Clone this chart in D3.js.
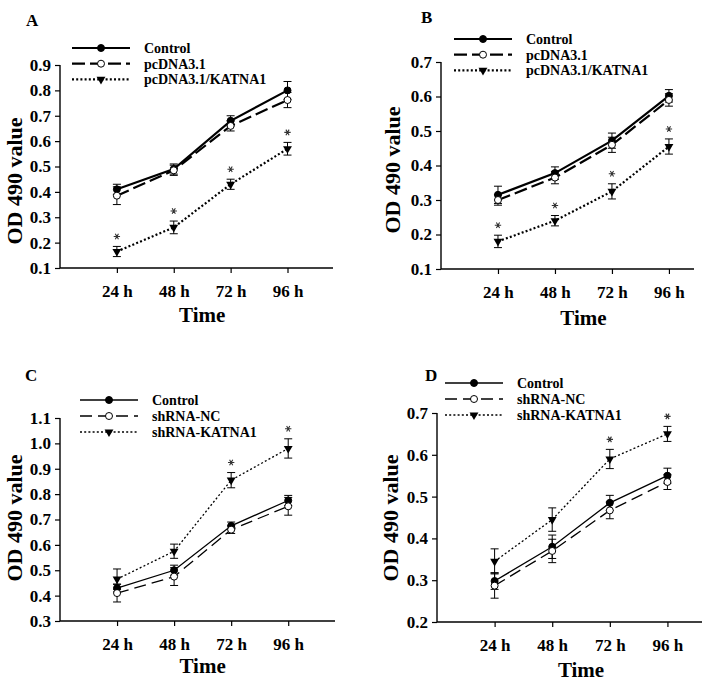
<!DOCTYPE html>
<html lang="en">
<head>
  <meta charset="UTF-8">
  <title>OD 490 value over time</title>
  <script src="https://d3js.org/d3.v7.min.js"></script>
  <style>
    body { margin: 0; background: #fff; }
    svg text { font-family: "Liberation Serif", "Times New Roman", serif; font-weight: bold; fill: #000; }
  </style>
</head>
<body>
  <svg id="chart" width="708" height="682"></svg>

  <script>
    // ---- data ----
    const timeLabels = ["24 h", "48 h", "72 h", "96 h"];
    const namesAB = ["Control", "pcDNA3.1", "pcDNA3.1/KATNA1"];
    const namesCD = ["Control", "shRNA-NC", "shRNA-KATNA1"];

    const meanA = [[0.41, 0.49, 0.68, 0.80], [0.385, 0.485, 0.66, 0.762], [0.165, 0.26, 0.43, 0.57]];
    const errA  = [[0.02, 0.02, 0.02, 0.035], [0.035, 0.02, 0.02, 0.03], [0.02, 0.025, 0.02, 0.025]];
    const starsA = [0, 1, 2, 3];
    const ticksA = [0.1, 0.2, 0.3, 0.4, 0.5, 0.6, 0.7, 0.8, 0.9];

    const meanB = [[0.315, 0.378, 0.472, 0.602], [0.30, 0.365, 0.46, 0.59], [0.18, 0.24, 0.325, 0.455]];
    const errB  = [[0.025, 0.018, 0.022, 0.018], [0.015, 0.018, 0.022, 0.018], [0.018, 0.015, 0.022, 0.022]];
    const starsB = [0, 1, 2, 3];
    const ticksB = [0.1, 0.2, 0.3, 0.4, 0.5, 0.6, 0.7];

    const meanC = [[0.43, 0.50, 0.675, 0.775], [0.41, 0.475, 0.66, 0.752], [0.465, 0.575, 0.855, 0.98]];
    const errC  = [[0.015, 0.02, 0.015, 0.02], [0.035, 0.035, 0.015, 0.035], [0.04, 0.028, 0.03, 0.038]];
    const starsC = [2, 3];
    const ticksC = [0.3, 0.4, 0.5, 0.6, 0.7, 0.8, 0.9, 1.0, 1.1];

    const meanD = [[0.298, 0.38, 0.485, 0.55], [0.287, 0.37, 0.467, 0.535], [0.345, 0.445, 0.59, 0.65]];
    const errD  = [[0.02, 0.028, 0.018, 0.018], [0.03, 0.028, 0.02, 0.018], [0.03, 0.028, 0.023, 0.018]];
    const starsD = [2, 3];
    const ticksD = [0.2, 0.3, 0.4, 0.5, 0.6, 0.7];

    // ---- panel layout ----
    const panels = [
      { tag: "A", names: namesAB, mean: meanA, err: errA, stars: starsA, ticks: ticksA,
        left: 60, right: 333, xMax: 4.8, top: 65, bottom: 268, lw: 2.2,
        tagPos: [26, 26], legX: 72, legY: 48, titleX: 14, titleY: 181, timeY: 322 },
      { tag: "B", names: namesAB, mean: meanB, err: errB, stars: starsB, ticks: ticksB,
        left: 441, right: 694, xMax: 4.44, top: 62, bottom: 269, lw: 2.2,
        tagPos: [421, 23], legX: 454, legY: 39, titleX: 392, titleY: 170, timeY: 325 },
      { tag: "C", names: namesCD, mean: meanC, err: errC, stars: starsC, ticks: ticksC,
        left: 60, right: 335, xMax: 4.82, top: 418, bottom: 621, lw: 1.3,
        tagPos: [25, 381], legX: 80, legY: 400, titleX: 14, titleY: 518, timeY: 673 },
      { tag: "D", names: namesCD, mean: meanD, err: errD, stars: starsD, ticks: ticksD,
        left: 437, right: 702, xMax: 4.6, top: 413, bottom: 622, lw: 1.3,
        tagPos: [425, 381], legX: 445, legY: 383, titleX: 390, titleY: 518, timeY: 677 }
    ];

    const svg = d3.select("#chart");

    function dashFor(i, lw) {
      if (i === 1) return lw > 1.5 ? "13,5" : "12,6";
      if (i === 2) return "2,2.2";
      return null;
    }

    function drawMarker(g, i, x, y) {
      if (i === 2) {
        g.append("path")
          .attr("d", d3.symbol().type(d3.symbolTriangle).size(34))
          .attr("transform", `translate(${x},${y}) rotate(180)`)
          .attr("fill", "#000");
      } else {
        g.append("circle")
          .attr("cx", x).attr("cy", y).attr("r", 3.5)
          .attr("fill", i === 0 ? "#000" : "#fff")
          .attr("stroke", "#000").attr("stroke-width", 1);
      }
    }

    panels.forEach(p => {
      const g = svg.append("g");
      const x = d3.scaleLinear().domain([0, p.xMax]).range([p.left, p.right]);
      const y = d3.scaleLinear().domain([p.ticks[0], p.ticks[p.ticks.length - 1]]).range([p.bottom, p.top]);

      // axes
      const yAxis = g.append("g")
        .attr("transform", `translate(${p.left},0)`)
        .call(d3.axisLeft(y).tickValues(p.ticks).tickFormat(d3.format(".1f")).tickSize(5).tickPadding(4));
      const xAxis = g.append("g")
        .attr("transform", `translate(0,${p.bottom})`)
        .call(d3.axisBottom(x).tickValues([1, 2, 3, 4]).tickFormat((d, i) => timeLabels[i]).tickSize(5).tickPadding(9));
      [yAxis, xAxis].forEach(a => {
        a.select(".domain").attr("stroke", "#000").attr("stroke-width", 1.4);
        a.selectAll(".tick line").attr("stroke", "#000").attr("stroke-width", 1.2);
        a.selectAll("text").attr("font-size", 17).attr("fill", "#000")
          .style("font-family", "'Liberation Serif', serif").style("font-weight", "bold");
      });
      xAxis.selectAll("text").attr("dy", "0.9em");
      // domain without outer tick stubs
      yAxis.select(".domain").attr("d", `M0,${p.bottom}V${p.top}`);
      xAxis.select(".domain").attr("d", `M${p.left},0H${p.right}`);

      // axis titles
      g.append("text")
        .attr("transform", `translate(${p.titleX},${p.titleY}) rotate(-90)`)
        .attr("text-anchor", "middle").attr("dy", "0.35em")
        .attr("font-size", 22).text("OD 490 value");
      g.append("text")
        .attr("x", (x(1) + x(4)) / 2).attr("y", p.timeY)
        .attr("text-anchor", "middle").attr("font-size", 21).text("Time");

      // panel tag
      g.append("text").attr("x", p.tagPos[0]).attr("y", p.tagPos[1])
        .attr("font-size", 17).text(p.tag);

      // series
      p.mean.forEach((vals, si) => {
        const pts = vals.map((v, k) => [x(k + 1), y(v)]);
        g.append("path")
          .attr("d", d3.line()(pts))
          .attr("fill", "none").attr("stroke", "#000")
          .attr("stroke-width", p.lw)
          .attr("stroke-dasharray", dashFor(si, p.lw));

        vals.forEach((v, k) => {
          const e = p.err[si][k];
          const cx = x(k + 1);
          g.append("path")
            .attr("d", `M${cx},${y(v - e)}V${y(v + e)}M${cx - 4},${y(v - e)}H${cx + 4}M${cx - 4},${y(v + e)}H${cx + 4}`)
            .attr("stroke", "#000").attr("stroke-width", 1).attr("fill", "none");
        });
        vals.forEach((v, k) => drawMarker(g, si, x(k + 1), y(v)));
      });

      // significance marks on the KATNA1 series
      const kat = 2;
      p.stars.forEach(k => {
        const top = y(p.mean[kat][k] + p.err[kat][k]);
        g.append("path")
          .attr("d", d3.symbol().type(d3.symbolAsterisk).size(28))
          .attr("transform", `translate(${x(k + 1)},${top - 10}) rotate(90)`)
          .attr("fill", "none").attr("stroke", "#333").attr("stroke-width", 1.1);
      });

      // legend
      const legLen = 58;
      p.names.forEach((name, si) => {
        const ly = p.legY + si * (p.lw > 1.5 ? 15.7 : 16);
        const lg = g.append("g");
        lg.append("line")
          .attr("x1", p.legX).attr("x2", p.legX + legLen)
          .attr("y1", ly).attr("y2", ly)
          .attr("stroke", "#000").attr("stroke-width", p.lw)
          .attr("stroke-dasharray", dashFor(si, p.lw));
        drawMarker(lg, si, p.legX + legLen / 2, ly);
        lg.append("text")
          .attr("x", p.legX + legLen + 14).attr("y", ly).attr("dy", "0.35em")
          .attr("font-size", 14).text(name);
      });
    });
  </script>
</body>
</html>
